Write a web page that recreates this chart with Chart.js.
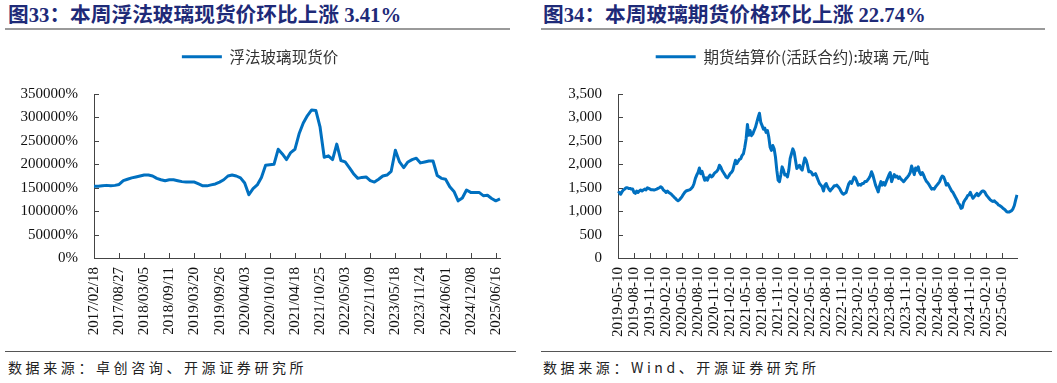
<!DOCTYPE html>
<html><head><meta charset="utf-8">
<script src="https://cdn.jsdelivr.net/npm/chart.js@4.4.1/dist/chart.umd.min.js"></script>
<style>
body{margin:0;width:1057px;height:383px;background:#fff;position:relative;overflow:hidden;}
.title{position:absolute;top:4px;font-family:"Liberation Serif","Noto Sans CJK SC",serif;font-weight:bold;font-size:20.7px;color:#1E2A78;line-height:22px;white-space:nowrap;}
.rule{position:absolute;height:2px;background:#9a9a9a;}
.src{position:absolute;top:359px;font-family:"Noto Sans CJK SC",sans-serif;font-size:14px;color:#222;letter-spacing:3.6px;white-space:nowrap;line-height:16px;}
.box{position:absolute;top:37px;height:308px;}
canvas{display:block;}
</style></head>
<body>
<div class="title" style="left:8px">图33：本周浮法玻璃现货价环比上涨 3.41%</div>
<div class="title" style="left:543px">图34：本周玻璃期货价格环比上涨 22.74%</div>
<div class="rule" style="left:5px;width:505px;top:28px"></div>
<div class="rule" style="left:541px;width:504px;top:28px"></div>
<div class="box" style="left:0;width:528px"><canvas id="c1" width="528" height="308"></canvas></div>
<div class="box" style="left:528px;width:529px"><canvas id="c2" width="529" height="308"></canvas></div>
<div class="rule" style="left:5px;width:511px;top:351px;height:1px;background:#555"></div>
<div class="rule" style="left:541px;width:511px;top:351px;height:1px;background:#555"></div>
<div class="src" style="left:8px">数据来源：卓创咨询、开源证券研究所</div>
<div class="src" style="left:543px">数据来源：Wind、开源证券研究所</div>
<script>
// ---- Chart 33: float glass spot price (6 points per labelled tick) ----
const spotName = '浮法玻璃现货价';
const spotTickLabels = ['2017/02/18','2017/08/27','2018/03/05','2018/09/11','2019/03/20','2019/09/26','2020/04/03','2020/10/10','2021/04/18','2021/10/25','2022/05/03','2022/11/09','2023/05/18','2023/11/24','2024/06/01','2024/12/08','2025/06/16'];
const spotValues = [
153000,153000,154000,155000,154000,155000,
157000,165000,168000,171000,173000,175000,
177000,177000,175000,170000,167000,165000,
167000,167000,165000,163000,162000,162000,
162000,158000,154000,154000,156000,158000,
162000,167000,175000,177000,175000,171000,
160000,135000,148000,156000,172000,198000,
199000,200000,232000,222000,210000,225000,
232000,265000,288000,304000,316000,315000,
280000,215000,218000,210000,243000,208000,
205000,193000,180000,170000,172000,173000,
165000,162000,168000,175000,177000,185000,
230000,205000,193000,205000,210000,213000,
203000,205000,207000,207000,176000,170000,
168000,152000,142000,122000,128000,145000,
140000,140000,140000,133000,134000,127000,
122000,126000];

// ---- Chart 34: glass futures settlement price (12 points per labelled tick) ----
const futName = '期货结算价(活跃合约):玻璃 元/吨';
const futTickLabels = ['2019-05-10','2019-08-10','2019-11-10','2020-02-10','2020-05-10','2020-08-10','2020-11-10','2021-02-10','2021-05-10','2021-08-10','2021-11-10','2022-02-10','2022-05-10','2022-08-10','2022-11-10','2023-02-10','2023-05-10','2023-08-10','2023-11-10','2024-02-10','2024-05-10','2024-08-10','2024-11-10','2025-02-10','2025-05-10'];
const futValues = [
1380,1400,1360,1415,1450,1470,1500,1500,1485,1485,1470,1470,
1400,1380,1430,1400,1430,1450,1430,1450,1470,1455,1500,1485,
1470,1455,1455,1450,1460,1470,1485,1500,1520,1500,1450,1430,
1400,1430,1400,1380,1360,1330,1300,1275,1240,1220,1240,1275,
1310,1360,1400,1430,1440,1450,1460,1485,1520,1590,1700,1770,
1825,1920,1800,1850,1750,1660,1710,1660,1730,1770,1730,1750,
1800,1825,1850,1890,1980,1940,1870,1825,1780,1730,1710,1750,
1800,1825,1870,1980,2085,2015,2060,2105,2120,2190,2225,2365,
2540,2850,2620,2720,2610,2650,2720,2790,2895,3000,3090,2895,
2825,2750,2770,2680,2720,2580,2365,2295,2400,2330,2155,1875,
1660,1630,1770,1945,1875,1770,1780,1730,1875,2120,2225,2330,
2260,2085,1910,1945,1980,1910,1875,2015,2135,2085,1980,1840,
1850,1825,1770,1780,1800,1730,1660,1590,1555,1520,1430,1555,
1590,1520,1470,1430,1470,1500,1540,1540,1555,1520,1485,1430,
1380,1360,1380,1400,1500,1590,1630,1590,1660,1730,1700,1630,
1555,1570,1555,1590,1590,1630,1630,1660,1700,1750,1840,1770,
1660,1555,1485,1410,1540,1630,1555,1610,1555,1630,1700,1770,
1825,1630,1710,1780,1730,1750,1700,1730,1685,1660,1630,1660,
1700,1730,1770,1825,1965,1875,1780,1920,1875,1945,1825,1780,
1825,1770,1700,1640,1610,1570,1520,1470,1485,1470,1520,1555,
1590,1630,1700,1750,1730,1660,1555,1590,1540,1485,1430,1400,
1345,1290,1240,1170,1135,1060,1075,1190,1240,1275,1330,1345,
1400,1330,1275,1310,1345,1380,1330,1360,1400,1430,1430,1400,
1345,1310,1275,1240,1220,1205,1220,1190,1170,1135,1120,1100,
1075,1050,1030,995,980,980,995,1010,1050,1120,1240,1345];

const LINE = '#0070C0';

function buildCategories(values, tickLabels, perTick){
  return values.map((v,i)=> (i % perTick === 0 && tickLabels[i/perTick]) ? tickLabels[i/perTick] : '');
}

const inwardTicks = {
  id:'inwardTicks',
  afterDatasetsDraw(chart){
    const ctx = chart.ctx, a = chart.chartArea;
    const xs = chart.scales.x, ys = chart.scales.y;
    ctx.save(); ctx.strokeStyle = '#444'; ctx.lineWidth = 1;
    xs.ticks.forEach((t,i)=>{
      if (t.label == null || t.label === '') return;
      const px = Math.round(xs.getPixelForTick(i)) + 0.5;
      ctx.beginPath(); ctx.moveTo(px, a.bottom); ctx.lineTo(px, a.bottom - 5); ctx.stroke();
    });
    ys.ticks.forEach((t,i)=>{
      const py = Math.round(ys.getPixelForTick(i)) + 0.5;
      ctx.beginPath(); ctx.moveTo(a.left, py); ctx.lineTo(a.left + 5, py); ctx.stroke();
    });
    ctx.restore();
  }
};

function legendBox(h, dx){
  return { id:'legendBox',
    beforeInit(chart){
      const orig = chart.legend.fit;
      chart.legend.fit = function(){ orig.bind(chart.legend)(); this.height = h; };
    },
    afterLayout(chart){ chart.legend.left += dx; chart.legend.right += dx; }
  };
}

function makeChart(id, name, values, tickLabels, perTick, yMax, yStep, fmt, yWidth, padRight, legendDx){
  const cats = buildCategories(values, tickLabels, perTick);
  return new Chart(document.getElementById(id), {
    type:'line',
    data:{ labels: cats, datasets:[{ label:name, data:values, borderColor:LINE, backgroundColor:LINE, borderWidth:3, pointRadius:0, tension:0, pointStyle:'line', borderJoinStyle:'round' }]},
    options:{
      responsive:false, animation:false,
      layout:{ padding:{ left:0, right:padRight, top:0, bottom:0 } },
      plugins:{
        legend:{ display:true, position:'top', labels:{ usePointStyle:true, pointStyle:'line', pointStyleWidth:40, boxWidth:40, boxHeight:15, padding:12, color:'#333', font:{ family:'"Noto Sans CJK SC"', size:15.5 } } },
        tooltip:{ enabled:false }
      },
      scales:{
        x:{
          type:'category', offset:false,
          grid:{ display:false, drawTicks:false },
          border:{ display:true, color:'#444', width:1 },
          ticks:{ autoSkip:false, minRotation:90, maxRotation:90, padding:9, color:'#111',
            font:{ family:'"Liberation Serif"', size:15 },
            callback:function(v,i){ const l = cats[i]; return l === '' ? null : l; } },
          afterFit(s){ s.height = 87; }
        },
        y:{
          min:0, max:yMax,
          grid:{ display:false, drawTicks:false },
          border:{ display:true, color:'#444', width:1 },
          ticks:{ stepSize:yStep, padding:16, color:'#111', font:{ family:'"Liberation Serif"', size:15 }, callback:fmt },
          afterFit(s){ s.width = yWidth; }
        }
      }
    },
    plugins:[inwardTicks, legendBox(57, legendDx)]
  });
}

makeChart('c1', spotName, spotValues, spotTickLabels, 6, 350000, 50000, v => v + '%', 94, 28, 10);
makeChart('c2', futName, futValues, futTickLabels, 12, 3500, 500, v => v.toLocaleString('en-US'), 90, 40, 20);
</script>
</body></html>
